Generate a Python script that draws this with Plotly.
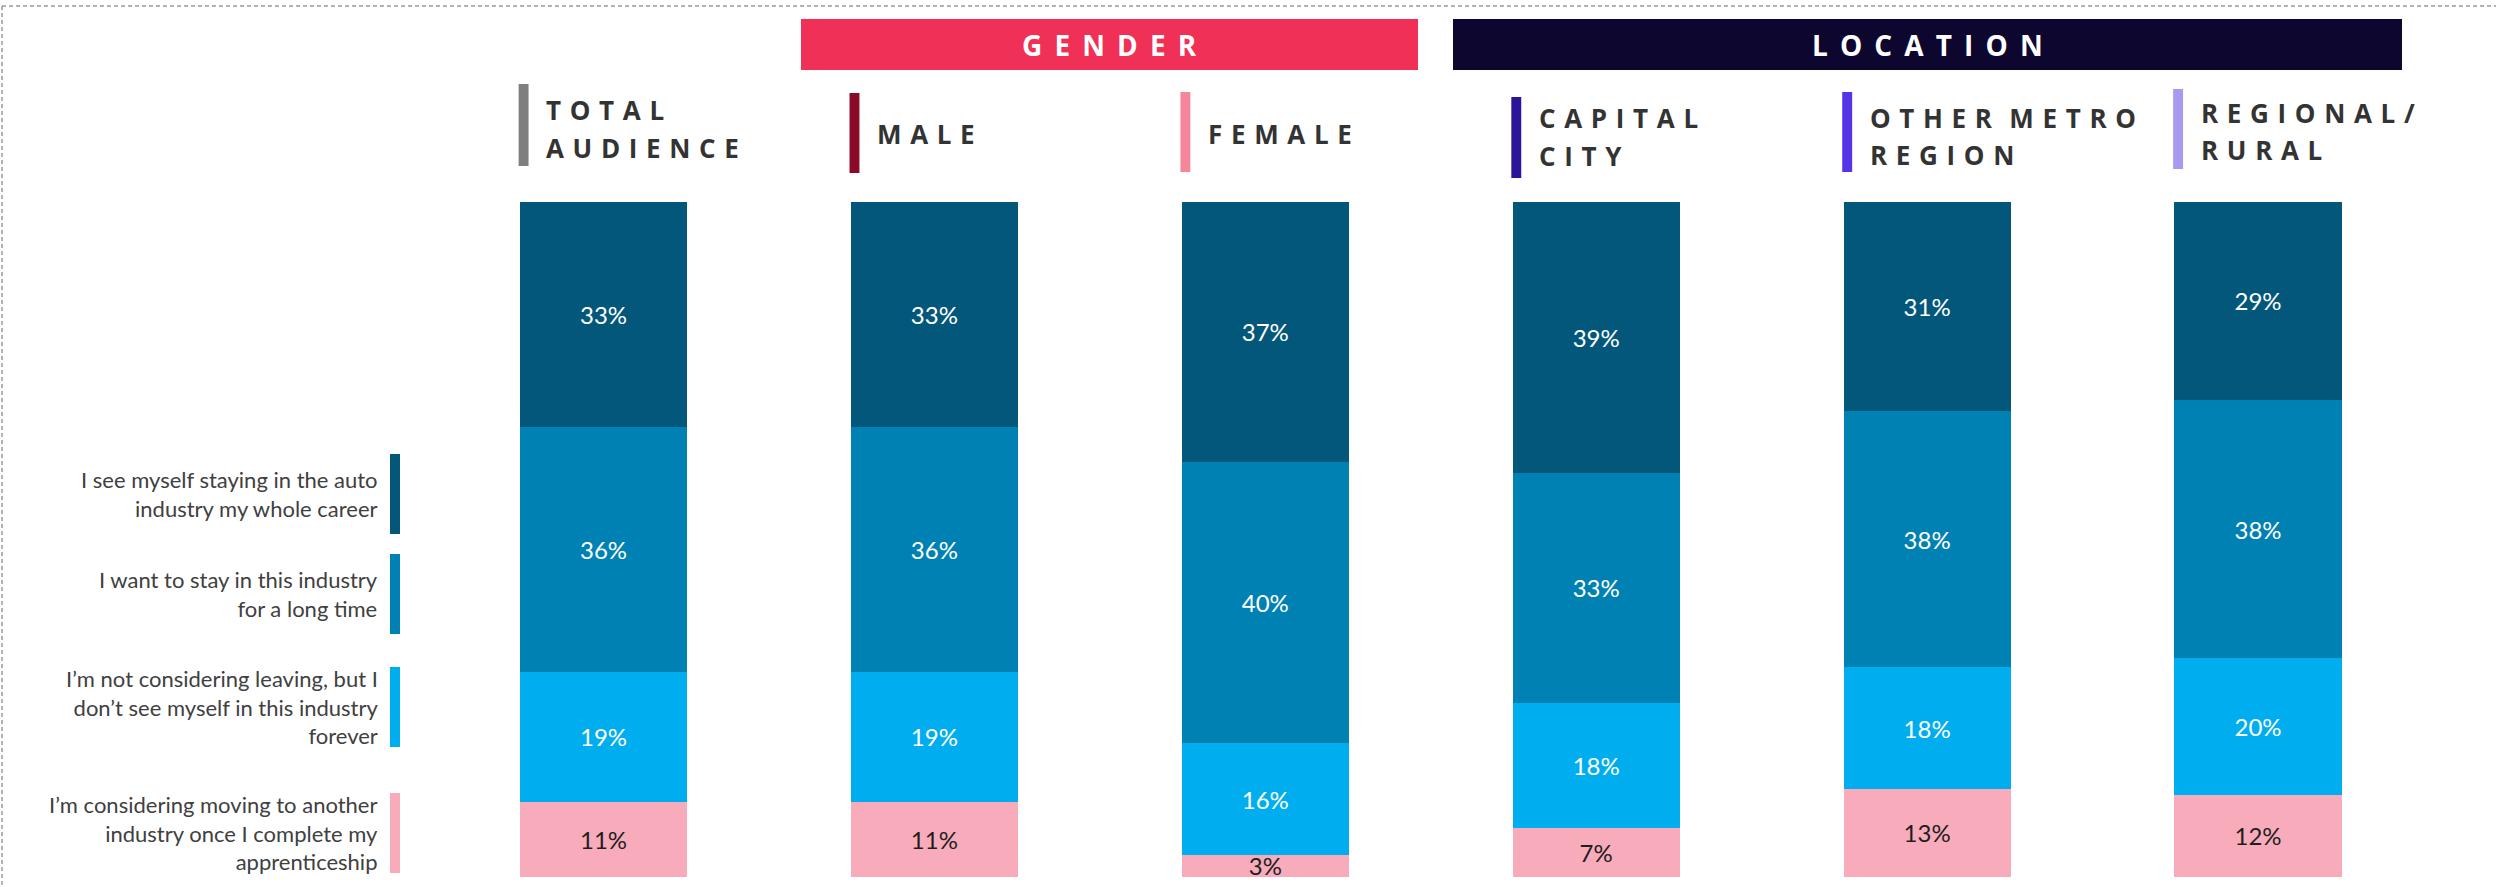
import plotly.graph_objects as go

# ---------------- data ----------------
categories = ["TOTAL AUDIENCE", "MALE", "FEMALE", "CAPITAL CITY", "OTHER METRO REGION", "REGIONAL/ RURAL"]
header_lines = [["TOTAL", "AUDIENCE"], ["MALE"], ["FEMALE"], ["CAPITAL", "CITY"], ["OTHER METRO", "REGION"], ["REGIONAL/", "RURAL"]]
groups = ["GENDER", "LOCATION"]

whole_career = [33, 33, 37, 39, 31, 29]
long_time = [36, 36, 40, 33, 38, 38]
not_forever = [19, 19, 16, 18, 18, 20]
considering_moving = [11, 11, 3, 7, 13, 12]

series_names = [
    "I see myself staying in the auto<br>industry my whole career",
    "I want to stay in this industry<br>for a long time",
    "I’m not considering leaving, but I<br>don’t see myself in this industry<br>forever",
    "I’m considering moving to another<br>industry once I complete my<br>apprenticeship",
]
series_values = [whole_career, long_time, not_forever, considering_moving]

# ---------------- styles ----------------
series_colors = ["#02577A", "#0081B3", "#00AEEF", "#F8ABBB"]
label_colors = ["#FFFFFF", "#FFFFFF", "#FFFFFF", "#1E1E1E"]
header_colors = ["#7F7F7F", "#8B0A28", "#F4869A", "#2B1599", "#5533E6", "#A89AEE"]
group_colors = ["#F03056", "#0D0730"]

W, H = 2496, 887
def X(p):
    return p / W
def Y(p):
    return 1 - p / H

SP = "\u2004"          # letter spacing
def spaced(s, sep=SP):
    words = s.split(" ")
    return (sep + sep).join(sep.join(list(w)) for w in words)

fig = go.Figure()

# stacked bars (bottom -> top)
for idx in [3, 2, 1, 0]:
    vals = series_values[idx]
    fig.add_trace(go.Bar(
        x=categories, y=vals,
        name=series_names[idx].replace("<br>", " "),
        marker=dict(color=series_colors[idx], line=dict(width=0)),
        width=0.505,
        text=[f"{v}%" for v in vals],
        textposition="inside",
        insidetextanchor="middle",
        textangle=0,
        textfont=dict(family="Lato", size=24, color=label_colors[idx]),
        showlegend=False,
        hovertemplate="%{x}: %{text}<extra></extra>",
    ))

shapes = []
annotations = []

# dashed frame
shapes.append(dict(type="line", xref="paper", yref="paper", x0=X(2), x1=1.0, y0=Y(6), y1=Y(6),
                   line=dict(color="#9A9A9A", width=1.5, dash="4px,3px")))
shapes.append(dict(type="line", xref="paper", yref="paper", x0=X(2), x1=X(2), y0=Y(6), y1=0,
                   line=dict(color="#9A9A9A", width=1.5, dash="4px,3px")))

# group banners
banner_px = [(801, 1418), (1453, 2402)]
for g, (x0, x1), col in zip(groups, banner_px, group_colors):
    shapes.append(dict(type="rect", xref="paper", yref="paper", x0=X(x0), x1=X(x1), y0=Y(70), y1=Y(19),
                       fillcolor=col, line=dict(width=0), layer="above"))
    annotations.append(dict(xref="paper", yref="paper", x=X((x0 + x1) / 2), y=Y(45),
                            text=spaced(g, "\u2004\u200a"), showarrow=False, xanchor="center", yanchor="middle",
                            font=dict(family="Open Sans", size=28, color="#FFFFFF", weight="bold")))

# category headers
bar_w = 0.505
header_bar_px = [(84, 166), (93, 173), (92, 172), (97, 178), (92, 172), (89, 169)]
header_line_px = [[108, 146], [132], [132], [116, 154], [116, 153], [111, 148]]
for i, (lines, col) in enumerate(zip(header_lines, header_colors)):
    x0 = i - bar_w / 2 - 0.004
    x1 = x0 + 0.03
    yt, yb = header_bar_px[i]
    shapes.append(dict(type="rect", xref="x", yref="paper", x0=x0, x1=x1, y0=Y(yb), y1=Y(yt),
                       fillcolor=col, line=dict(width=0)))
    for line, ly in zip(lines, header_line_px[i]):
        annotations.append(dict(xref="x", yref="paper", x=x1 + 0.048, y=Y(ly + 2),
                                text=spaced(line), showarrow=False,
                                xanchor="left", yanchor="middle", align="left",
                                font=dict(family="Open Sans", size=26, color="#333333", weight="bold")))

# left legend (text right-aligned, colour bar on its right)
legend_bar_px = [(454, 534), (554, 634), (667, 747), (793, 873)]
for name, col, (yt, yb) in zip(series_names, series_colors, legend_bar_px):
    shapes.append(dict(type="rect", xref="paper", yref="paper", x0=X(390), x1=X(400), y0=Y(yb), y1=Y(yt),
                       fillcolor=col, line=dict(width=0)))
    annotations.append(dict(xref="paper", yref="paper", x=X(380), y=Y((yt + yb) / 2),
                            text=name, showarrow=False, xanchor="right", yanchor="middle", align="right",
                            font=dict(family="Lato", size=22, color="#404040")))

pitch = 330.9
r0 = -603.5 / pitch
r1 = r0 + W / pitch
yspan = 100 * H / (876.5 - 202)
y0 = -(H - 876.5) / H * yspan

fig.update_layout(
    width=W, height=H,
    margin=dict(l=0, r=0, t=0, b=0),
    paper_bgcolor="#FFFFFF", plot_bgcolor="#FFFFFF",
    barmode="stack", barnorm="percent",
    uniformtext=dict(minsize=24, mode="show"),
    xaxis=dict(type="category", range=[r0, r1], showticklabels=False, showgrid=False,
               zeroline=False, showline=False, fixedrange=True),
    yaxis=dict(range=[y0, y0 + yspan], showticklabels=False, showgrid=False,
               zeroline=False, showline=False, fixedrange=True),
    shapes=shapes, annotations=annotations,
    showlegend=False,
)

fig.write_html("out.html", config={"displayModeBar": False},
               post_script="document.body.style.margin='0';document.body.style.overflow='hidden';")
